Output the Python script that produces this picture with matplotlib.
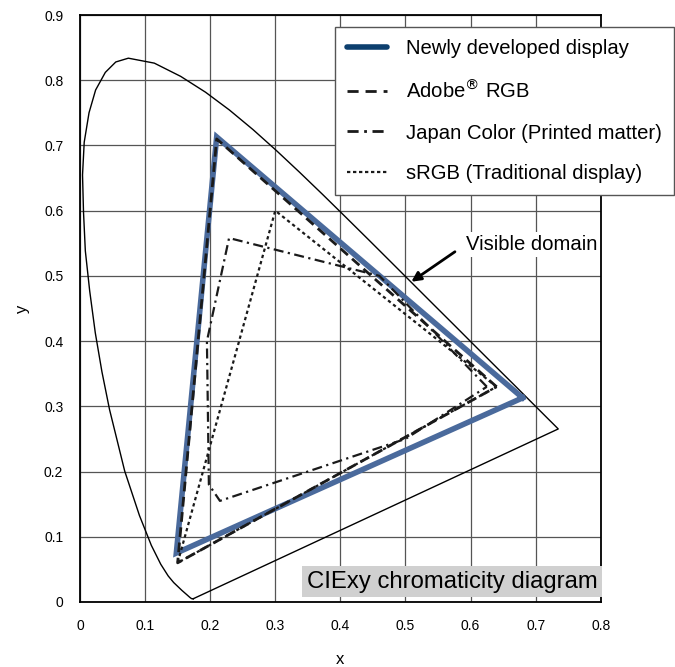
import numpy as np
import matplotlib
matplotlib.use("Agg")
import matplotlib.pyplot as plt
from matplotlib.lines import Line2D

plt.rcParams['font.family'] = ['Liberation Sans', 'DejaVu Sans']

# spectral locus (CIE 1931 xy), a few extra points
locus_x = [0.1741, 0.1733, 0.1714, 0.1689, 0.1644, 0.1566, 0.1440, 0.1355, 0.1241, 0.1096,
           0.0913, 0.0687, 0.0454, 0.0337, 0.0235, 0.0149, 0.0082, 0.0054, 0.0039, 0.0065,
           0.0139, 0.0240, 0.0389, 0.0550, 0.0743, 0.1142,
           0.1547, 0.1929, 0.2296, 0.2658, 0.3016, 0.3373, 0.3731, 0.4087, 0.4441, 0.4788,
           0.5125, 0.5448, 0.5752, 0.6029, 0.6270, 0.6482, 0.6658, 0.6915, 0.7079, 0.7190,
           0.7260, 0.7300, 0.7334, 0.7347]
locus_y = [0.0050, 0.0048, 0.0051, 0.0069, 0.0109, 0.0177, 0.0297, 0.0399, 0.0578, 0.0868,
           0.1327, 0.2007, 0.2950, 0.3530, 0.4127, 0.4770, 0.5384, 0.5980, 0.6548, 0.7050,
           0.7502, 0.7850, 0.8120, 0.8280, 0.8338, 0.8262,
           0.8059, 0.7816, 0.7543, 0.7243, 0.6923, 0.6589, 0.6245, 0.5896, 0.5547, 0.5202,
           0.4866, 0.4544, 0.4242, 0.3965, 0.3725, 0.3514, 0.3340, 0.3083, 0.2920, 0.2809,
           0.2740, 0.2700, 0.2666, 0.2653]

# gamuts (closed polygons)
new_x = [0.680, 0.210, 0.148, 0.680]
new_y = [0.313, 0.713, 0.075, 0.313]
adobe_x = [0.64, 0.21, 0.15, 0.64]
adobe_y = [0.33, 0.71, 0.06, 0.33]
japan_x = [0.625, 0.46, 0.229, 0.195, 0.198, 0.215, 0.50, 0.625]
japan_y = [0.330, 0.50, 0.558, 0.400, 0.180, 0.155, 0.25, 0.330]
srgb_x = [0.64, 0.30, 0.15, 0.64]
srgb_y = [0.33, 0.60, 0.06, 0.33]

fig = plt.figure(figsize=(6.75, 6.67), dpi=100)
ax = fig.add_axes([0.1185, 0.0975, 0.7715, 0.88])

ax.plot(locus_x + [locus_x[0]], locus_y + [locus_y[0]], color='black', lw=1.0)

ax.plot(new_x, new_y, color='#4a6a9c', lw=4, solid_joinstyle='miter')
ax.plot(adobe_x, adobe_y, color='#1a1a1a', lw=2, dashes=(3.5, 2))
ax.plot(japan_x, japan_y, color='#1a1a1a', lw=1.6, dashes=(4.5, 2, 1, 2))
ax.plot(srgb_x, srgb_y, color='#1a1a1a', lw=1.6, dashes=(1.5, 1.4))

ax.set_xlim(0, 0.8)
ax.set_ylim(0, 0.9)
ax.set_xticks(np.arange(0, 0.81, 0.1))
ax.set_yticks(np.arange(0, 0.91, 0.1))
ax.set_xticklabels(['0', '0.1', '0.2', '0.3', '0.4', '0.5', '0.6', '0.7', '0.8'])
ax.set_yticklabels(['0', '0.1', '0.2', '0.3', '0.4', '0.5', '0.6', '0.7', '0.8', '0.9'])
ax.tick_params(length=0, labelsize=10, pad=12)
ax.grid(True, color='#555555', lw=0.9)
ax.set_axisbelow(True)
for s in ax.spines.values():
    s.set_linewidth(1.3)
ax.set_xlabel('x', fontsize=12, labelpad=14)
ax.set_ylabel('y', fontsize=12, labelpad=10)

handles = [
    Line2D([], [], color='#0d3f6e', lw=4, solid_capstyle='round'),
    Line2D([], [], color='#1a1a1a', lw=2, dashes=(4, 2.5)),
    Line2D([], [], color='#1a1a1a', lw=2, dashes=(4, 2, 1, 2)),
    Line2D([], [], color='#1a1a1a', lw=1.6, dashes=(1.5, 1.2)),
]
labels = ['Newly developed display', r'Adobe$^{\circledR}$ RGB',
          'Japan Color (Printed matter)', 'sRGB (Traditional display)']
leg = ax.legend(handles, labels, loc='upper left', bbox_to_anchor=(0.489, 0.98),
                fontsize=14.6, frameon=True, fancybox=False, edgecolor='#555555',
                framealpha=1, labelspacing=1.07, handlelength=2.0, handletextpad=0.9,
                borderpad=0.6, borderaxespad=0)
leg.get_frame().set_linewidth(1.0)

ax.text(0.593, 0.548, 'Visible domain', fontsize=14.6, va='center', ha='left',
        bbox=dict(facecolor='white', edgecolor='none', pad=2))
ax.annotate('', xy=(0.509, 0.491), xytext=(0.576, 0.537),
            arrowprops=dict(arrowstyle='-|>', color='black', lw=2,
                            shrinkA=0, shrinkB=0, mutation_scale=14))

ax.text(0.994, 0.016, 'CIExy chromaticity diagram', transform=ax.transAxes,
        fontsize=17.2, ha='right', va='bottom',
        bbox=dict(facecolor='#d0d0d0', edgecolor='none', pad=3.5))

fig.savefig('out.png', dpi=100)
